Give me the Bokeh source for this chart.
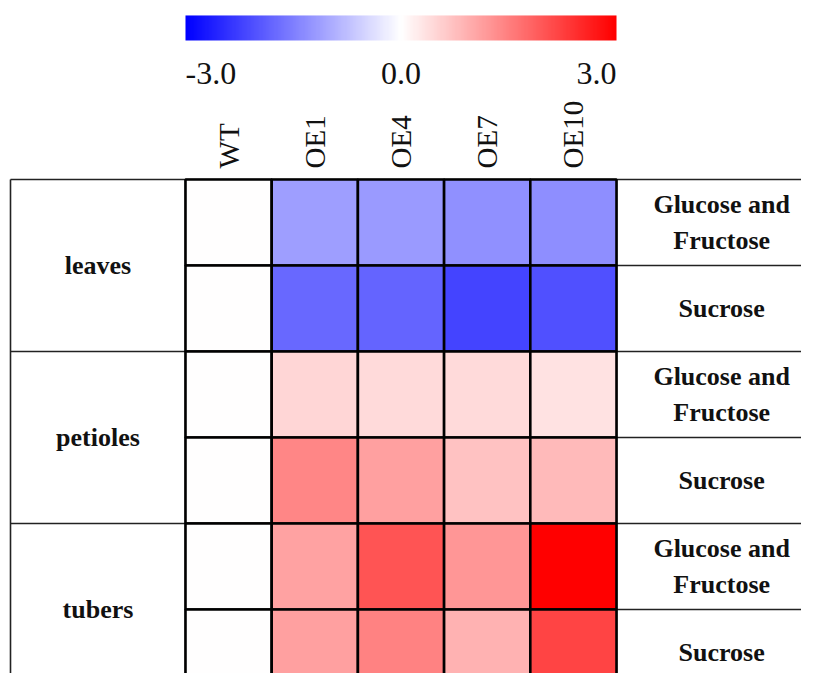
import numpy as np
from bokeh.plotting import figure
from bokeh.models import Range1d, LinearColorMapper, ColumnDataSource
from bokeh.core.properties import value
from bokeh.embed import file_html
from bokeh.resources import INLINE

# ---- data ----
genotypes = ["WT", "OE1", "OE4", "OE7", "OE10"]
tissues = ["leaves", "petioles", "tubers"]
sugars = ["Glucose and\nFructose", "Sucrose"]
leaves_glc_fru = [0.0, -1.14, -1.18, -1.29, -1.32]
leaves_suc = [0.0, -1.76, -1.82, -2.20, -2.06]
petioles_glc_fru = [0.0, 0.47, 0.44, 0.44, 0.35]
petioles_suc = [0.0, 1.41, 1.12, 0.71, 0.82]
tubers_glc_fru = [0.0, 1.09, 2.00, 1.24, 3.00]
tubers_suc = [0.0, 1.12, 1.47, 0.91, 2.18]
scale_ticks = [-3.0, 0.0, 3.0]

rows = [leaves_glc_fru, leaves_suc, petioles_glc_fru, petioles_suc,
        tubers_glc_fru, tubers_suc]

# ---- palette blue-white-red ----
N = 256
pal = []
for t in np.linspace(0, 1, N):
    if t < 0.5:
        f = t / 0.5
        r = g = int(round(255 * f)); b = 255
    else:
        f = (t - 0.5) / 0.5
        r = 255; g = b = int(round(255 * (1 - f)))
    pal.append("#%02x%02x%02x" % (r, g, b))
mapper = LinearColorMapper(palette=pal, low=scale_ticks[0], high=scale_ticks[-1])

W, H = 801, 673
XL, XR = -2.146, 7.146
YB, YT = -5.744, 2.081

p = figure(width=W, height=H, x_range=Range1d(XL, XR), y_range=Range1d(YB, YT),
           output_backend="svg", toolbar_location=None, min_border=0,
           background_fill_color="white", border_fill_color="white")
p.axis.visible = False
p.grid.visible = False
p.outline_line_color = None

SERIF = value("Liberation Serif")

# ---- cells ----
xs, ys, vals = [], [], []
for r, rv in enumerate(rows):
    for c, v in enumerate(rv):
        xs.append(c + 0.5); ys.append(-(r + 0.5)); vals.append(v)
src = ColumnDataSource(dict(x=xs, y=ys, val=vals))

# ---- table frame lines (thin) ----
x_left = -2.03
hx0, hx1, hy = [], [], []
for g in range(len(tissues) + 1):
    hx0.append(x_left); hx1.append(XR + 0.1); hy.append(-2.0 * g)
for g in range(len(tissues)):
    hx0.append(5); hx1.append(XR + 0.1); hy.append(-2.0 * g - 1)
p.segment(x0=hx0, y0=hy, x1=hx1, y1=hy, line_color="#222222", line_width=1.6)
vx = [x_left, 0, 5]
p.segment(x0=vx, y0=[0] * 3, x1=vx, y1=[YB - 0.1] * 3, line_color="#222222", line_width=1.6)

p.rect(x="x", y="y", width=1, height=1, source=src,
       fill_color={"field": "val", "transform": mapper},
       line_color="#000000", line_width=2.6)

# ---- colour bar ----
grad = np.linspace(scale_ticks[0], scale_ticks[-1], 400)[None, :]
p.image(image=[grad], x=0, y=1.616, dw=5, dh=0.291, color_mapper=mapper)
p.text(x=[0, 2.5, 5], y=[1.23] * 3, text=["%.1f" % t for t in scale_ticks],
       text_align=["left", "center", "right"], text_baseline="middle",
       text_font=SERIF, text_font_size="32px", text_color="#111111")

# ---- column labels ----
p.text(x=[i + 0.5 for i in range(len(genotypes))], y=[0.128] * len(genotypes),
       text=genotypes, angle=np.pi / 2, text_align="left", text_baseline="middle",
       text_font=SERIF, text_font_size="29px", text_color="#111111")

# ---- tissue labels ----
p.text(x=[(x_left + 0) / 2] * len(tissues), y=[-2.0 * i - 1 for i in range(len(tissues))],
       text=tissues, text_align="center", text_baseline="middle",
       text_font=SERIF, text_font_style="bold", text_font_size="26px", text_color="#111111")

# ---- sugar labels ----
sx, sy, st = [], [], []
for i in range(len(tissues)):
    for j, s in enumerate(sugars):
        sx.append(6.22); sy.append(-(2 * i + j + 0.5)); st.append(s)
p.text(x=sx, y=sy, text=st, text_align="center", text_baseline="middle",
       text_line_height=1.23,
       text_font=SERIF, text_font_style="bold", text_font_size="26px", text_color="#111111")

open("out.html", "w").write(file_html(p, INLINE))
